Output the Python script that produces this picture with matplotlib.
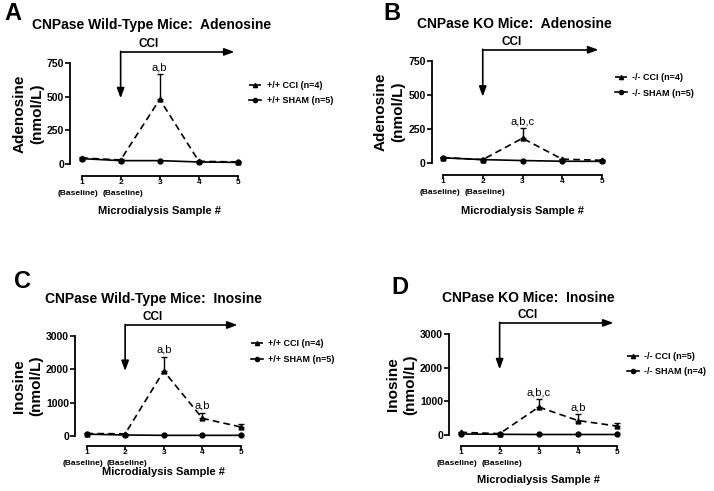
import matplotlib
matplotlib.use("Agg")
import matplotlib.pyplot as plt
import numpy as np
from matplotlib.lines import Line2D

plt.rcParams['font.family'] = ['Liberation Sans', 'DejaVu Sans']

samples = [1, 2, 3, 4, 5]
xtick_labels = ["1", "2", "3", "4", "5"]
baseline_samples = [1, 2]
baseline_label = "(Baseline)"

# Panel A: WT adenosine
A_cci = [45, 30, 480, 20, 15]
A_cci_err = [5, 4, 185, 4, 3]
A_sham = [40, 25, 25, 15, 12]
# Panel B: KO adenosine
B_cci = [40, 25, 182, 28, 20]
B_cci_err = [4, 3, 73, 5, 3]
B_sham = [38, 25, 18, 13, 12]
# Panel C: WT inosine
C_cci = [75, 65, 1950, 530, 270]
C_cci_err = [10, 10, 430, 160, 90]
C_sham = [55, 30, 20, 20, 20]
# Panel D: KO inosine
D_cci = [80, 40, 830, 430, 265]
D_cci_err = [10, 8, 230, 180, 95]
D_sham = [30, 20, 15, 15, 15]

W, H = 714, 491
fig = plt.figure(figsize=(W / 100, H / 100), dpi=100)
PT = 0.72  # points per pixel at 100 dpi


def px_axes(l, r, t, b):
    return fig.add_axes([l / W, (H - b) / H, (r - l) / W, (b - t) / H])


panels = [
    dict(box=(81.5, 238, 63, 164), off=12, xlab_d=35, letter="A", lxy=(4, 13),
         title="CNPase Wild-Type Mice:  Adenosine", txy=(32, 25),
         ylab="Adenosine\n(nmol/L)", ymax=750, yt=[0, 250, 500, 750],
         cci=A_cci, err=A_cci_err, sham=A_sham,
         leg=["+/+ CCI (n=4)", "+/+ SHAM (n=5)"], legxy=(1.05, 0.70),
         notes=[(3, "a,b")]),
    dict(box=(443, 602, 61, 163), off=12, xlab_d=36, letter="B", lxy=(383, 13),
         title="CNPase KO Mice:  Adenosine", txy=(417, 24),
         ylab="Adenosine\n(nmol/L)", ymax=750, yt=[0, 250, 500, 750],
         cci=B_cci, err=B_cci_err, sham=B_sham,
         leg=["-/- CCI (n=4)", "-/- SHAM (n=5)"], legxy=(1.06, 0.76),
         notes=[(3, "a,b,c")]),
    dict(box=(86.5, 241, 336, 436), off=10, xlab_d=26, letter="C", lxy=(14, 282),
         title="CNPase Wild-Type Mice:  Inosine", txy=(45, 299),
         ylab="Inosine\n(nmol/L)", ymax=3000, yt=[0, 1000, 2000, 3000],
         cci=C_cci, err=C_cci_err, sham=C_sham,
         leg=["+/+ CCI (n=4)", "+/+ SHAM (n=5)"], legxy=(1.04, 0.845),
         notes=[(3, "a,b"), (4, "a,b")]),
    dict(box=(460.5, 617, 334, 435), off=11, xlab_d=34, letter="D", lxy=(391, 287),
         title="CNPase KO Mice:  Inosine", txy=(442, 298),
         ylab="Inosine\n(nmol/L)", ymax=3000, yt=[0, 1000, 2000, 3000],
         cci=D_cci, err=D_cci_err, sham=D_sham,
         leg=["-/- CCI (n=5)", "-/- SHAM (n=4)"], legxy=(1.04, 0.70),
         notes=[(3, "a,b,c"), (4, "a,b")]),
]

for p in panels:
    l, r, t, b = p["box"]
    hpx = b - t
    ax = px_axes(l, r, t, b)
    ax.set_xlim(1.0, 5.0)
    ax.set_ylim(0, p["ymax"])
    for s in ["top", "right"]:
        ax.spines[s].set_visible(False)
    ax.spines["bottom"].set_position(("outward", p["off"] * PT))
    ax.spines["left"].set_position(("outward", 11.5 * PT))
    ax.spines["bottom"].set_bounds(1, 5)
    ax.spines["left"].set_bounds(0, p["ymax"])
    for s in ["left", "bottom"]:
        ax.spines[s].set_linewidth(1.3)
    ax.set_xticks(samples)
    ax.set_xticklabels(xtick_labels, fontsize=6, fontweight="bold")
    ax.set_yticks(p["yt"])
    ax.set_yticklabels([str(v) for v in p["yt"]], fontsize=7.5, fontweight="bold")
    ax.tick_params(axis="y", direction="out", length=3.5, width=1.2, pad=0.8)
    ax.tick_params(axis="x", direction="out", length=3, width=1.2, pad=-0.5)
    ax.set_ylabel(p["ylab"], fontsize=11, fontweight="bold", labelpad=2, linespacing=1.3)
    ax.set_xlabel("Microdialysis Sample #", fontsize=8, fontweight="bold")
    ax.xaxis.label.set_va("center")
    ax.xaxis.set_label_coords(0.5, -(p["off"] + p["xlab_d"]) / hpx)

    xtr = ax.get_xaxis_transform()
    for xi, dx in zip(baseline_samples, [-3.5, 2]):
        ax.annotate(baseline_label, (xi, 0), xycoords=xtr,
                    xytext=(dx * PT, -(p["off"] + 17.5) * PT), textcoords="offset points",
                    ha="center", va="center", fontsize=6, fontweight="bold", annotation_clip=False)

    ax.errorbar(samples, p["cci"], yerr=[np.zeros(5), p["err"]], fmt="none",
                ecolor="black", elinewidth=1.0, capsize=2.5, capthick=1.0, clip_on=False, zorder=3)
    ax.plot(samples, p["cci"], color="black", ls=(0, (4, 2.5)), lw=1.2, marker="^",
            ms=3.5, clip_on=False, zorder=4)
    ax.plot(samples, p["sham"], color="black", ls="-", lw=1.2, marker="o",
            ms=3.5, clip_on=False, zorder=4)

    for xi, txt in p["notes"]:
        i = samples.index(xi)
        ax.annotate(txt, (xi, p["cci"][i] + p["err"][i]), xytext=(0, 1.5),
                    textcoords="offset points", ha="center", va="bottom", fontsize=8)

    # CCI arrow
    ax.plot([2, 4.8], [1.11, 1.11], color="black", lw=1.2, transform=xtr, clip_on=False,
            solid_capstyle="butt")
    ax.annotate("", xy=(4.98, 1.11), xytext=(4.7, 1.11), xycoords=xtr, textcoords=xtr,
                arrowprops=dict(arrowstyle="-|>,head_length=0.6,head_width=0.22", color="black", lw=1.2))
    ax.annotate("", xy=(2, 0.65), xytext=(2, 1.115), xycoords=xtr, textcoords=xtr,
                arrowprops=dict(arrowstyle="-|>,head_length=0.6,head_width=0.22", color="black", lw=1.2,
                                shrinkA=0, shrinkB=0))
    ax.text(2.72, 1.19, "CCI", transform=xtr, ha="center", va="center",
            fontsize=8.5, fontweight="bold")

    handles = [
        Line2D([], [], color="black", ls=(0, (3, 1.5)), lw=1.2, marker="^", ms=3),
        Line2D([], [], color="black", ls="-", lw=1.2, marker="o", ms=3),
    ]
    ax.legend(handles, p["leg"], loc="center left", bbox_to_anchor=p["legxy"], frameon=False,
              handlelength=1.3, handletextpad=0.6, labelspacing=0.7, borderaxespad=0,
              prop=dict(size=6.5, weight="bold"))

    fig.text(p["lxy"][0] / W, 1 - p["lxy"][1] / H, p["letter"], fontsize=17, fontweight="bold",
             ha="left", va="center")
    fig.text(p["txy"][0] / W, 1 - p["txy"][1] / H, p["title"], fontsize=10, fontweight="bold",
             ha="left", va="center")

fig.savefig("out.png", dpi=100)
